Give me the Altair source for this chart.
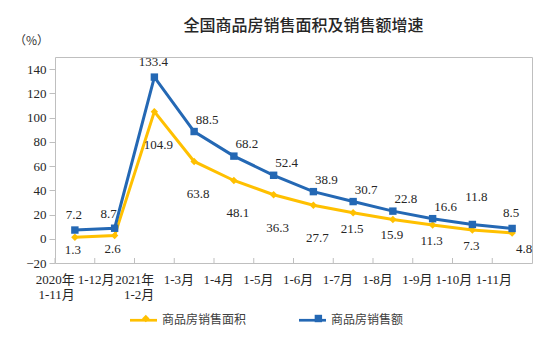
import altair as alt
import pandas as pd

categories = ["2020年\n1-11月", "1-12月", "2021年\n1-2月", "1-3月", "1-4月", "1-5月",
              "1-6月", "1-7月", "1-8月", "1-9月", "1-10月", "1-11月"]
area_growth = [1.3, 2.6, 104.9, 63.8, 48.1, 36.3, 27.7, 21.5, 15.9, 11.3, 7.3, 4.8]
sales_growth = [7.2, 8.7, 133.4, 88.5, 68.2, 52.4, 38.9, 30.7, 22.8, 16.6, 11.8, 8.5]
series_names = ["商品房销售面积", "商品房销售额"]
series_colors = ["#FFC000", "#2468B4"]
y_ticks = [-20, 0, 20, 40, 60, 80, 100, 120, 140]

W, H = 477, 206
SERIF = "Liberation Serif, Noto Sans CJK SC"
CJK = "Noto Sans CJK SC"


def label_group(series, i):
    if series == series_names[1]:
        if i in (0, 2, 11):
            return "bA"
        if i == 1:
            return "bD"
        if i == 10:
            return "bC"
        return "bB"
    if i in (0, 1):
        return "yD"
    if 2 <= i <= 6:
        return "yE"
    if i == 11:
        return "yG"
    return "yF"


rows = []
for name, vals in zip(series_names, [area_growth, sales_growth]):
    for i, (c, v) in enumerate(zip(categories, vals)):
        rows.append({"cat": c, "series": name, "value": v, "idx": i,
                     "grp": label_group(name, i), "txt": f"{v:.1f}"})
df = pd.DataFrame(rows)

offsets = {"bA": (-1, -15), "bB": (13, -12), "bC": (4, -27), "bD": (-6, -14),
           "yD": (-2, 13), "yE": (4, 33), "yF": (-1, 16), "yG": (12, 16)}

x_enc = alt.X("cat:N", sort=categories,
              scale=alt.Scale(type="band", paddingInner=0, paddingOuter=0),
              axis=alt.Axis(title=None, labelExpr="split(datum.label, '\\n')",
                            ticks=False, domain=False, labelAngle=0,
                            labelFont=SERIF, labelFontSize=13, labelColor="#262626",
                            labelPadding=10, labelLineHeight=15, labelBaseline="top"))
y_enc = alt.Y("value:Q", scale=alt.Scale(domain=[-20, 150], nice=False, zero=False),
              axis=alt.Axis(values=y_ticks, title="（%）", titleAngle=0, titleX=-24,
                            titleY=-17, titleAlign="center", titleBaseline="middle",
                            titleFont=CJK, titleFontSize=12, titleFontWeight="normal",
                            titleColor="#333333", domain=False, grid=False,
                            tickColor="#bfbfbf", tickSize=6, labelPadding=3,
                            labelFont=SERIF, labelFontSize=13, labelColor="#262626"))

LEG_X = 75
LINE_SYM = 27          # legend line length
LABEL_FS = 12
LINE_GAP = 52
first_entry = LINE_SYM + 5 + LABEL_FS * len(series_names[0]) + LINE_GAP
marker_w = 55 ** 0.5

line_legend = alt.Legend(
    title=None, orient="none", legendX=LEG_X, legendY=249.5, direction="horizontal",
    symbolType="M-1,-0.1H1V0.1H-1Z", symbolSize=LINE_SYM ** 2, symbolStrokeWidth=0,
    symbolOpacity=1, labelOffset=5, columnPadding=LINE_GAP, padding=0, zindex=1,
    labelFont=CJK, labelFontSize=LABEL_FS, labelColor="#404040")
marker_legend = alt.Legend(
    title=None, orient="none", legendX=LEG_X + (LINE_SYM - marker_w) / 2, legendY=255.5,
    direction="horizontal", symbolSize=55, symbolStrokeWidth=0, symbolOpacity=1,
    labelOffset=0, labelExpr="''", zindex=2,
    columnPadding=first_entry - marker_w, padding=0, labelFontSize=LABEL_FS)

color_scale = alt.Scale(domain=series_names, range=series_colors)
shape_scale = alt.Scale(domain=series_names, range=["diamond", "square"])
base = alt.Chart(df)

ticks = alt.Chart(df[df.series == series_names[0]]).mark_rule(color="#bfbfbf", strokeWidth=1).encode(
    x=alt.X("cat:N", sort=categories, bandPosition=0),
    y=alt.value(H - 5), y2=alt.value(H))

legend_carrier = base.transform_filter("false").mark_point(filled=True, opacity=1).encode(
    color=alt.Color("series:N", scale=color_scale, legend=line_legend))

lines = base.mark_line(strokeWidth=3).encode(
    x=x_enc, y=y_enc, color=alt.Color("series:N", scale=color_scale, legend=None))
points = base.mark_point(filled=True, opacity=1, size=55).encode(
    x=x_enc, y=y_enc,
    color=alt.Color("series:N", scale=color_scale, legend=marker_legend),
    shape=alt.Shape("series:N", scale=shape_scale, legend=marker_legend))

texts = []
for g, (dx, dy) in offsets.items():
    texts.append(base.transform_filter(alt.datum.grp == g).mark_text(
        dx=dx, dy=dy, font=SERIF, fontSize=13, color="#262626", baseline="middle", align="center"
    ).encode(x=x_enc, y=y_enc, text="txt:N"))

chart = alt.layer(ticks, legend_carrier, lines, points, *texts).resolve_legend(
    color="independent", shape="independent"
).properties(
    width=W, height=H,
    title=alt.Title("全国商品房销售面积及销售额增速", font=CJK, fontSize=16, fontWeight=500,
                    color="#262626", anchor="middle", dx=10, offset=0),
    autosize=alt.AutoSizeParams(type="none"),
    padding={"left": 55, "top": 57, "right": 22, "bottom": 75},
).configure_view(stroke="#bfbfbf", strokeWidth=1)

chart.save("out.html", embed_options={"renderer": "svg", "actions": False})
